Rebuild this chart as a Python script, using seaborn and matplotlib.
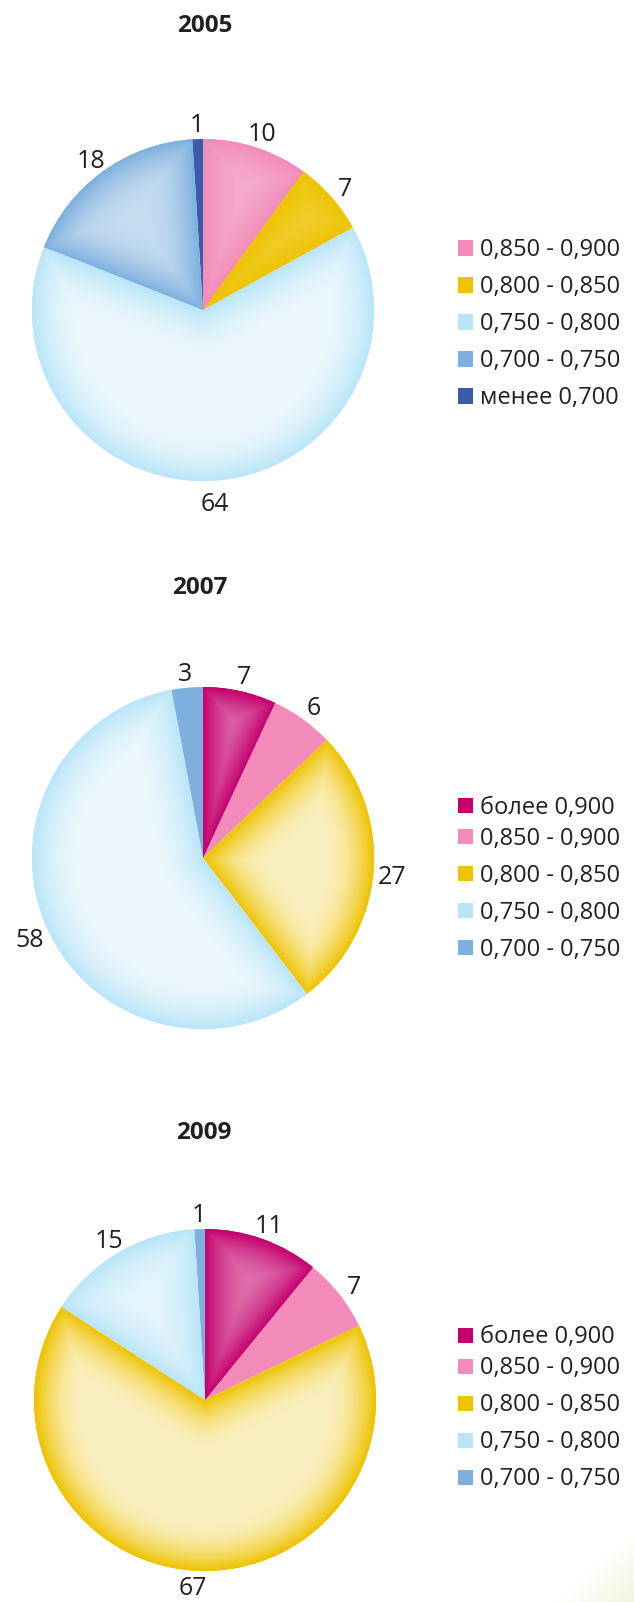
import numpy as np
import matplotlib
matplotlib.use("Agg")
import matplotlib.pyplot as plt
import seaborn as sns
from matplotlib.colors import to_rgb
from matplotlib.patches import Rectangle
from matplotlib.transforms import ScaledTranslation

# ---------------- data ----------------
years = ["2005", "2007", "2009"]
cats_2005 = ["0,850 - 0,900", "0,800 - 0,850", "0,750 - 0,800", "0,700 - 0,750", "менее 0,700"]
vals_2005 = [10, 7, 64, 18, 1]
cats_2007 = ["более 0,900", "0,850 - 0,900", "0,800 - 0,850", "0,750 - 0,800", "0,700 - 0,750"]
vals_2007 = [7, 6, 27, 58, 3]
cats_2009 = ["более 0,900", "0,850 - 0,900", "0,800 - 0,850", "0,750 - 0,800", "0,700 - 0,750"]
vals_2009 = [11, 7, 67, 15, 1]

# ---------------- style ----------------
sns.set_theme(style="white")
plt.rcParams["font.family"] = ["Open Sans", "DejaVu Sans"]
TXT = "#231F20"

palette = {
    "более 0,900": "#C4006E",
    "0,850 - 0,900": "#F28BB9",
    "0,800 - 0,850": "#EEC300",
    "0,750 - 0,800": "#B9E5F8",
    "0,700 - 0,750": "#7DB0DE",
    "менее 0,700": "#3A5CA9",
}
glow_strength = [
    [0.30, 0.22, 0.72, 0.55, 0.0],
    [0.45, 0.0, 0.75, 0.72, 0.0],
    [0.45, 0.0, 0.75, 0.62, 0.0],
]

W, H = 634, 1602
R = 171.0
L = 1.22
centers = [(203, 310), (203, 858), (205, 1400)]
title_pos = [(205, 26), (200, 588), (204, 1133)]
legend_first = [248, 805.7, 1335.3]
legend_offsets = [[0, 37, 74, 111, 148], [0, 31, 68, 105, 142], [0, 31, 68, 105, 142]]

fig = plt.figure(figsize=(W / 100, H / 100), dpi=100)
fig.patch.set_facecolor("white")

# faint background blob bottom-right
ax_bg = fig.add_axes([0, 0, 1, 1], zorder=-5)
yy, xx = np.mgrid[0:H:2, 0:W:2]
dist = np.hypot(xx - 790, yy - 1790)
a = np.clip((300 - dist) / 60, 0, 1) * 0.9
blob = np.ones((yy.shape[0], yy.shape[1], 4))
gcol = np.array(to_rgb("#EEF2D6"))
for k in range(3):
    blob[..., k] = 1 - a * (1 - gcol[k])
ax_bg.imshow(blob, extent=(0, W, H, 0), interpolation="bilinear")
ax_bg.set_xlim(0, W)
ax_bg.set_ylim(H, 0)
ax_bg.axis("off")

# grid for glow shading
N = 500
gy, gx = np.mgrid[-1:1:N * 1j, -1:1:N * 1j]
rr = np.hypot(gx, gy)
phi = np.degrees(np.arctan2(gy, gx)) % 360


def glow_image(base, theta1, theta2, s, w=0.30):
    span = theta2 - theta1
    rel = (phi - theta1) % 360
    d1 = np.where(rel < 90, rr * np.sin(np.radians(np.minimum(rel, 90))), rr)
    rel2 = span - rel
    d2 = np.where((rel2 < 90) & (rel2 >= 0), rr * np.sin(np.radians(np.clip(rel2, 0, 90))), rr)
    d = np.minimum(np.minimum(1 - rr, d1), d2)
    x = np.clip(d / w, 0, 1)
    t = 1 - (1 - x) ** 2
    m = s * t
    img = np.ones((N, N, 4))
    b = np.array(to_rgb(base))
    for k in range(3):
        img[..., k] = b[k] * (1 - m) + m
    return img


all_cats = [cats_2005, cats_2007, cats_2009]
all_vals = [vals_2005, vals_2007, vals_2009]
shift_down = ScaledTranslation(0, -5 / 100, fig.dpi_scale_trans)
label_texts = []

for i, (yr, cats, vals) in enumerate(zip(years, all_cats, all_vals)):
    cx, cy = centers[i]
    ax = fig.add_axes([(cx - L * R) / W, 1 - (cy + L * R) / H, 2 * L * R / W, 2 * L * R / H])
    cols = [palette[c] for c in cats]
    wedges, texts = ax.pie(
        vals, colors=cols, startangle=90, counterclock=False,
        labels=[str(v) for v in vals], labeldistance=1.11,
        wedgeprops=dict(linewidth=0),
        textprops=dict(fontsize=18, color=TXT),
    )
    for t in texts:
        t.set_ha("center")
        t.set_va("center")
        t.set_transform(t.get_transform() + shift_down)
        label_texts.append(t)
    for wdg, c, s in zip(wedges, cols, glow_strength[i]):
        if s <= 0:
            continue
        img = glow_image(c, wdg.theta1, wdg.theta2, s)
        im = ax.imshow(img, extent=(-1, 1, -1, 1), origin="lower",
                       interpolation="bilinear", zorder=wdg.get_zorder() + 0.1)
        im.set_clip_path(wdg)
    ax.set_xlim(-L, L)
    ax.set_ylim(-L, L)
    ax.set_aspect("equal")
    ax.axis("off")

    tx, ty = title_pos[i]
    fig.text(tx / W, 1 - ty / H, yr, ha="center", va="center",
             fontsize=17.5, fontweight="bold", color=TXT)

    for j, c in enumerate(cats):
        yc = legend_first[i] + legend_offsets[i][j]
        fig.patches.append(Rectangle((458 / W, 1 - (yc + 7.5) / H), 15 / W, 15 / H,
                                     transform=fig.transFigure, facecolor=palette[c],
                                     edgecolor="none"))
        fig.text(480 / W, 1 - (yc + 8) / H, c, ha="left", va="baseline",
                 fontsize=17, color=TXT)

# keep pie labels inside the canvas
fig.canvas.draw()
renderer = fig.canvas.get_renderer()
for t in label_texts:
    bb = t.get_window_extent(renderer)
    if bb.y0 < 1:
        up = (1 - bb.y0) / 100
        t.set_transform(t.get_transform() + ScaledTranslation(0, up, fig.dpi_scale_trans))

fig.savefig("out.png", dpi=100, facecolor="white")
